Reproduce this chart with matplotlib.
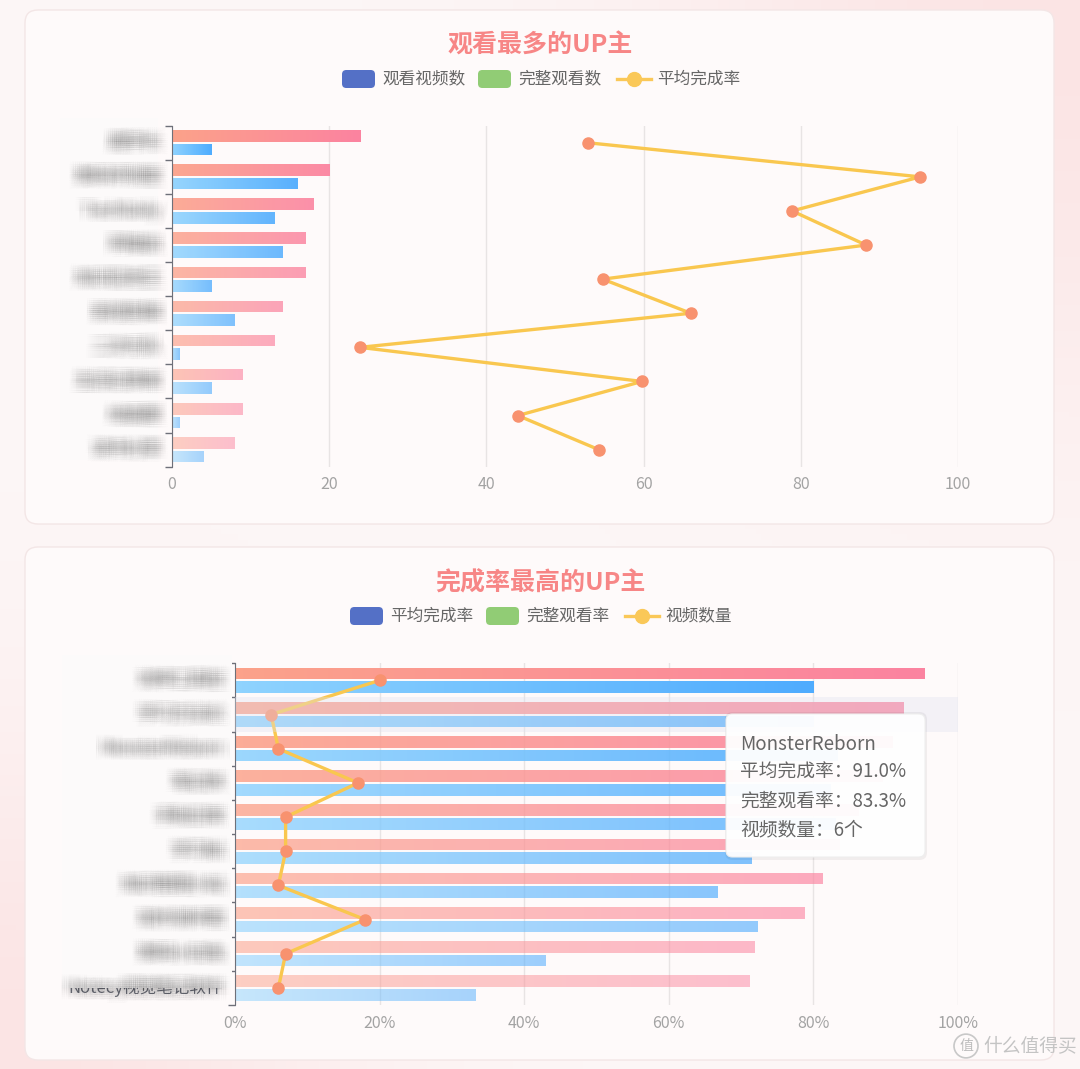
import numpy as np
import matplotlib.pyplot as plt
import matplotlib.patheffects as pe
from matplotlib import transforms
from matplotlib.patches import FancyBboxPatch, Rectangle, Circle
from matplotlib.colors import LinearSegmentedColormap
from matplotlib.lines import Line2D

plt.rcParams['font.family'] = ['Noto Sans CJK SC', 'DejaVu Sans']

# ---- 数据 ----
# 名字在原图中被打码，这里用占位名称（MonsterReborn / Notecy 可读）
top_names = ["鹿学长", "数码评测室", "TechDaily", "阿喵说", "知识区老王",
             "影视剪辑", "二次元队", "生活记录者", "绘画屋", "读书分享"]
top_videos = [24, 20, 18, 17, 17, 14, 13, 9, 9, 8]          # 观看视频数
top_full = [5, 16, 13, 14, 5, 8, 1, 5, 1, 4]                # 完整观看数
top_rate = [52.9, 95.2, 78.9, 88.3, 54.8, 66.0, 23.9, 59.8, 44.0, 54.3]  # 平均完成率

bot_names = ["效率工具控", "学习方法论", "MonsterReborn", "笔记侠", "手账日常",
             "学习帖", "知识管理小站", "软件测评君", "数码小白兔", "Notecy视觉笔记软件"]
bot_rate = [95.3, 92.4, 91.0, 89.5, 86.2, 83.6, 81.2, 78.8, 71.9, 71.2]   # 平均完成率 %
bot_full = [80.0, 80.0, 83.3, 82.4, 83.0, 71.4, 66.7, 72.2, 42.9, 33.3]   # 完整观看率 %
bot_count = [20, 5, 6, 17, 7, 7, 6, 18, 7, 6]                             # 视频数量

W, H = 1080, 1069
PINK = ('#fca28a', '#fb83a0')
BLUE = ('#8fd3fe', '#4facfe')
LINE_C = '#f9c74f'
MARK_C = '#f8926f'


def fx(x):
    return x / W


def fy(y):
    return 1 - y / H


fig = plt.figure(figsize=(W / 100, H / 100), dpi=100)

# 背景
bg = fig.add_axes([0, 0, 1, 1], zorder=-10)
yy, xx = np.mgrid[0:1:200j, 0:1:200j]
glow = np.maximum(np.exp(-((xx - 1) ** 2 + yy ** 2) / 0.15), np.exp(-(xx ** 2 + (yy - 1) ** 2) / 0.1))
base = np.array([253, 247, 247]) / 255
pink = np.array([251, 228, 228]) / 255
bg.imshow(base + (pink - base) * glow[..., None], extent=[0, 1, 0, 1], aspect='auto', origin='upper')
bg.axis('off')

# 卡片
for x0, y0, x1, y1 in [(25, 10, 1054, 524), (25, 547, 1054, 1060)]:
    fig.add_artist(FancyBboxPatch((fx(x0), fy(y1)), fx(x1) - fx(x0), fy(y0) - fy(y1),
                                  boxstyle='round,pad=0,rounding_size=0.012', transform=fig.transFigure,
                                  fc='#fefafa', ec='#f3e6e6', lw=1, zorder=-5))


def grad_barh(ax, y, w, h, colors, alpha):
    bar = ax.barh(y, w, height=h, color='none', zorder=2)[0]
    cmap = LinearSegmentedColormap.from_list('g', list(colors))
    im = ax.imshow(np.linspace(0, 1, 64)[None, :], cmap=cmap, extent=[0, w, y - h / 2, y + h / 2],
                   aspect='auto', alpha=alpha, zorder=2, interpolation='bilinear')
    im.set_clip_path(bar)


def style(ax, fmt):
    ax.set_facecolor('none')
    ax.set_xlim(0, 100)
    ax.set_ylim(9.5, -0.5)
    ax.set_yticks(np.arange(-0.5, 10, 1))
    ax.set_yticklabels([])
    ax.tick_params(axis='y', direction='out', length=5, width=1, color='#6e7079')
    ax.set_xticks(range(0, 101, 20))
    ax.set_xticklabels([fmt.format(v) for v in range(0, 101, 20)])
    ax.tick_params(axis='x', length=0, labelsize=11.5, labelcolor='#a3a3a3', pad=7)
    for s in ['top', 'right', 'bottom']:
        ax.spines[s].set_visible(False)
    ax.spines['left'].set_color('#6e7079')
    ax.grid(axis='x', color='#e8e4e4', lw=1)
    ax.set_axisbelow(True)


def draw_chart(ax, names, v1, v2, line):
    pos = np.arange(len(names))
    n = len(names)
    for i in range(n):
        a = 1 - 0.5 * i / (n - 1)
        grad_barh(ax, pos[i] - 0.2, v1[i], 0.34, PINK, a)
        grad_barh(ax, pos[i] + 0.2, v2[i], 0.34, BLUE, a)
    ax.plot(line, pos, color=LINE_C, lw=2.4, marker='o', ms=8, mfc=MARK_C, mec=MARK_C, zorder=5,
            solid_joinstyle='round')


# 模糊效果：只画阴影，不画原文字
BLUR = [pe.SimplePatchShadow(offset=(dx, dy), shadow_rgbFace='#555555', alpha=0.014)
        for dx in np.linspace(-6, 6, 9) for dy in np.linspace(-4.5, 4.5, 7)]


def labels(ax, names, right_px, patch, crisp_last=False):
    base_tr = transforms.blended_transform_factory(ax.transAxes, ax.transData)
    tr = transforms.offset_copy(base_tr, fig=fig, x=-right_px, y=0, units='dots')
    if crisp_last:
        i = len(names) - 1
        ax.text(0, i, names[i], transform=tr, ha='right', va='center', fontsize=12, color='#6e7079',
                clip_on=False)
    # 打码区域
    x0, y0, x1, y1 = patch
    fig.add_artist(Rectangle((fx(x0), fy(y1)), fx(x1) - fx(x0), fy(y0) - fy(y1), transform=fig.transFigure,
                             fc='#fcfafa', ec='none', zorder=5))
    for i, s in enumerate(names):
        fig.text(0, i, s, transform=tr, ha='right', va='center', fontsize=12, color='#555555',
                 path_effects=BLUR, zorder=6)


def legend(items, y):
    for kind, x, color, label in items:
        if kind == 'box':
            fig.add_artist(FancyBboxPatch((fx(x), fy(y + 9)), 33 / W, 18 / H,
                                          boxstyle='round,pad=0,rounding_size=0.004',
                                          transform=fig.transFigure, fc=color, ec='none'))
        else:
            fig.add_artist(Line2D([fx(x), fx(x + 34)], [fy(y), fy(y)], color=color, lw=2.4,
                                  transform=fig.transFigure))
            fig.add_artist(Line2D([fx(x + 17)], [fy(y)], marker='o', ms=10, color=color,
                                  transform=fig.transFigure))
        fig.text(fx(x + 40), fy(y), label, ha='left', va='center', fontsize=12, color='#666666')


# ---- 上图 ----
ax1 = fig.add_axes([fx(172), fy(466.7), fx(958) - fx(172), fy(125.7) - fy(466.7)])
draw_chart(ax1, top_names, top_videos, top_full, top_rate)
style(ax1, '{}')
labels(ax1, top_names, 12, (60, 118, 158, 460))
fig.text(0.5, fy(46), '观看最多的UP主', ha='center', va='center', fontsize=18, weight='bold', color='#f78686')
legend([('box', 342, '#5470c6', '观看视频数'), ('box', 478, '#91cc75', '完整观看数'),
        ('line', 617, '#fac858', '平均完成率')], 79)

# ---- 下图 ----
ax2 = fig.add_axes([fx(235), fy(1005), fx(958) - fx(235), fy(663.3) - fy(1005)])
draw_chart(ax2, bot_names, bot_rate, bot_full, bot_count)
style(ax2, '{}%')
ax2.axhspan(0.5, 1.5, color='#dfe3f0', alpha=0.35, zorder=6, lw=0)
labels(ax2, bot_names, 12, (62, 655, 232, 988), crisp_last=True)
fig.text(0.5, fy(583), '完成率最高的UP主', ha='center', va='center', fontsize=18, weight='bold', color='#f78686')
legend([('box', 350, '#5470c6', '平均完成率'), ('box', 486, '#91cc75', '完整观看率'),
        ('line', 625, '#fac858', '视频数量')], 616)

# 提示框
tip = 2
fig.add_artist(FancyBboxPatch((fx(725), fy(860)), 202 / W, 148 / H, boxstyle='round,pad=0,rounding_size=0.007',
                              transform=fig.transFigure, fc='#000000', alpha=0.05, ec='none', zorder=8))
fig.add_artist(FancyBboxPatch((fx(726), fy(857)), 199 / W, 143 / H, boxstyle='round,pad=0,rounding_size=0.006',
                              transform=fig.transFigure, fc='white', ec='#eeeeee', lw=0.8, alpha=0.96, zorder=8))
tip_lines = [bot_names[tip],
             '平均完成率：{:.1f}%'.format(bot_rate[tip]),
             '完整观看率：{:.1f}%'.format(bot_full[tip]),
             '视频数量：{}个'.format(bot_count[tip])]
for k, s in enumerate(tip_lines):
    fig.text(fx(740), fy(744 + 28.5 * k), s, ha='left', va='center', fontsize=13.5, color='#666666', zorder=9)

# 水印
fig.add_artist(Circle((fx(966), fy(1046)), 12 / W, transform=fig.transFigure, fc='none', ec='#c8c8c8', lw=1.2,
                      zorder=9))
fig.text(fx(966), fy(1046), '值', ha='center', va='center', fontsize=10, color='#bdbdbd', zorder=9)
fig.text(fx(983), fy(1046), '什么值得买', ha='left', va='center', fontsize=13.5, color='#c4c4c4', zorder=9)

fig.savefig('out.png', dpi=100)
